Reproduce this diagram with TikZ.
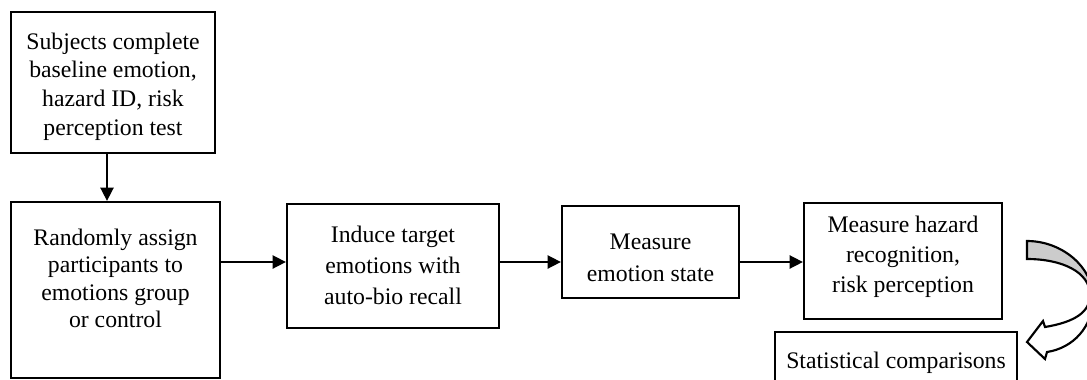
\documentclass[tikz,border=0pt]{standalone}
\usepackage{fontspec}
\setmainfont{Liberation Serif}
\usetikzlibrary{arrows.meta}
\pgfdeclareverticalshading{arrowshade}{100bp}{color(0bp)=(white); color(49bp)=(white); color(57bp)=(black!20); color(100bp)=(black!20)}
\begin{document}
\begin{tikzpicture}[x=0.75pt,y=-0.75pt,
  box/.style={draw, line width=1.7pt, inner sep=0pt},
  txt/.style={align=center, inner sep=0pt, font=\fontsize{17.8pt}{#1}\selectfont},
  txt/.default=21pt,
  link/.style={line width=1.2pt, -{Triangle[length=10pt,width=10pt]}},
  blockarrow/.style={draw, line width=1.6pt, line join=miter, shading=arrowshade}]
\useasboundingbox (0,0) rectangle (1087,379);
\fill[white] (0,0) rectangle (1087,379);
% boxes
\node[box, minimum width=153pt,    minimum height=105.75pt] (b1) at (113,82.5) {};
\node[box, minimum width=156.75pt, minimum height=132pt]    (b2) at (115.5,290) {};
\node[box, minimum width=159pt,    minimum height=93pt]     (b3) at (393,266) {};
\node[box, minimum width=132.75pt, minimum height=69pt]     (b4) at (650.5,252) {};
\node[box, minimum width=148.5pt,  minimum height=87pt]     (b5) at (903,261) {};
\node[box, minimum width=181.5pt,  minimum height=43.5pt]   (b6) at (896,361) {};
% texts
\node[txt=21.5pt] (t1) at (113,86.5) {Subjects complete\\baseline emotion,\\hazard ID, risk\\perception test};
\node[txt=20.5pt] (t2) at (115.5,278.5) {Randomly assign\\participants to\\emotions group\\or control};
\node[txt=23pt]   (t3) at (393,265.5) {Induce target\\emotions with\\auto-bio recall};
\node[txt=24pt]   (t4) at (650.5,258) {Measure\\emotion state};
\node[txt=22.5pt] (t5) at (903,256.5) {Measure hazard\\recognition,\\risk perception};
\node[txt]        (t6) at (896,362.4) {Statistical comparisons};
% connectors
\coordinate (ax) at (107,0);
\coordinate (ay) at (0,262);
\draw[link] (b1.south -| ax) -- (b2.north -| ax);
\draw[link] (b2.east |- ay) -- (b3.west |- ay);
\draw[link] (b3.east |- ay) -- (b4.west |- ay);
\draw[link] (b4.east |- ay) -- (b5.west |- ay);
% curved block arrow
\path[blockarrow] (1027,241) .. controls (1062,241) and (1093,267) .. (1093,298)
  .. controls (1093,327) and (1073,348) .. (1047,352)
  -- (1045,359) -- (1027,342) -- (1043,321) -- (1045,327)
  .. controls (1075,322) and (1090,312) .. (1090,295)
  .. controls (1090,272) and (1062,259) .. (1027,259) -- cycle;
\end{tikzpicture}
\end{document}
